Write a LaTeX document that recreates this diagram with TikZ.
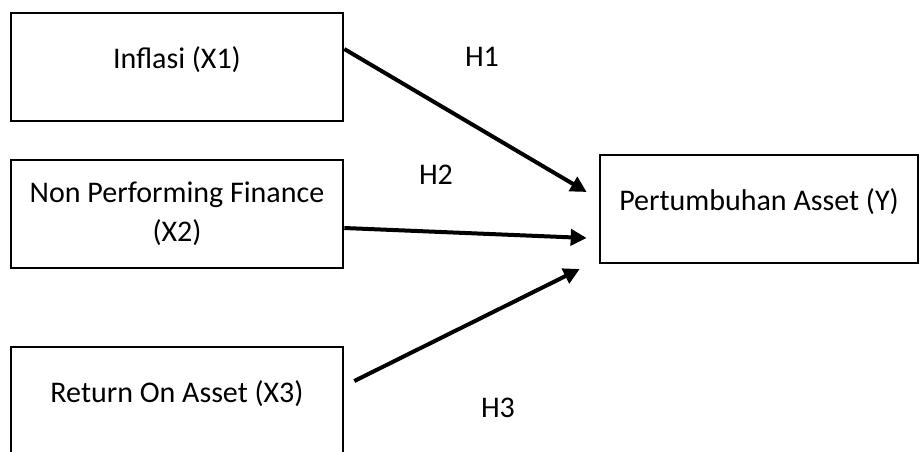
\documentclass[tikz,border=0pt]{standalone}
\usepackage{fontspec}
\setmainfont{Carlito}
\usetikzlibrary{arrows.meta}
\tikzset{
	varbox/.style={draw=black,line width=1.3pt,rectangle,align=center,minimum width=166pt,minimum height=54pt,inner sep=2pt,
		font=\fontsize{15pt}{19.5pt}\selectfont},
	oneline/.style={text height=11pt,text depth=10pt},
	hyparrow/.style={line width=2pt,-{Triangle[length=8pt,width=8pt]}},
	hyplabel/.style={font=\fontsize{15pt}{19.5pt}\selectfont}
}
\begin{document}
\begin{tikzpicture}[x=0.5pt,y=-0.5pt]
					\clip (0,0) rectangle (920,451);
					\node[varbox,oneline] (X1) at (177,67) {Inflasi (X1)};
					\node[varbox] (X2) at (177,214) {Non Performing Finance\\(X2)};
					\node[varbox,oneline] (X3) at (177,401) {Return On Asset (X3)};
					\node[varbox,oneline,minimum width=159pt] (Y) at (759,209) {Pertumbuhan Asset (Y)};
					\draw[hyparrow] ([yshift=9pt]X1.east)--([xshift=-6pt,yshift=8.5pt]Y.west);
					\draw[hyparrow] ([yshift=-7pt]X2.east)--([xshift=-6pt,yshift=-14.5pt]Y.west);
					\draw[hyparrow] ([xshift=5pt,yshift=10pt]X3.east)--([xshift=-9.5pt,yshift=-30pt]Y.west);
					\node[hyplabel] (H1) at (482,57) {H1};
					\node[hyplabel] (H2) at (436,175) {H2};
					\node[hyplabel] (H3) at (498,408) {H3};
				\end{tikzpicture}
\end{document}
